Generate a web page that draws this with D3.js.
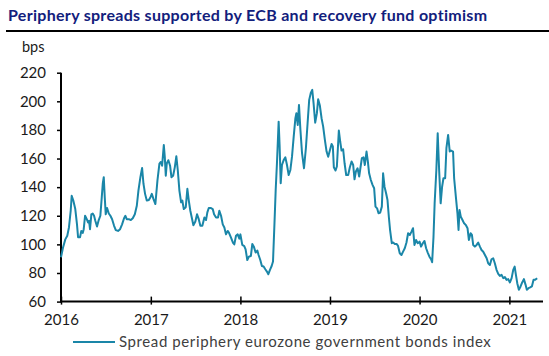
<!DOCTYPE html>
<html>
<head>
<meta charset="utf-8">
<script src="https://cdn.jsdelivr.net/npm/d3@7"></script>
<style>
  html, body { margin: 0; padding: 0; background: #fff; }
  svg { display: block; }
  text { font-family: Lato, "Noto Sans", sans-serif; }
</style>
</head>
<body>
<svg id="chart" width="549" height="356"></svg>
<script>
// ---- data ----
const title = "Periphery spreads supported by ECB and recovery fund optimism";
const unitLabel = "bps";
const seriesName = "Spread periphery eurozone government bonds index";
const yTicks = [60, 80, 100, 120, 140, 160, 180, 200, 220];
const xTickYears = [2016, 2017, 2018, 2019, 2020, 2021];

// observation times as decimal years
const times = [
  2016.000, 2016.022, 2016.048, 2016.070, 2016.089, 2016.108, 2016.119, 2016.137, 2016.159, 2016.178,
  2016.190, 2016.212, 2016.226, 2016.242, 2016.253, 2016.268, 2016.287, 2016.301, 2016.312, 2016.323,
  2016.338, 2016.353, 2016.368, 2016.382, 2016.401, 2016.420, 2016.438, 2016.454, 2016.465, 2016.476,
  2016.487, 2016.498, 2016.513, 2016.532, 2016.550, 2016.569, 2016.591, 2016.610, 2016.635, 2016.658,
  2016.680, 2016.702, 2016.717, 2016.732, 2016.755, 2016.777, 2016.799, 2016.822, 2016.844, 2016.862,
  2016.884, 2016.903, 2016.918, 2016.936, 2016.955, 2016.978, 2016.996,
  2017.011, 2017.029, 2017.051, 2017.074, 2017.096, 2017.111, 2017.126, 2017.145, 2017.156, 2017.167,
  2017.178, 2017.196, 2017.215, 2017.230, 2017.249, 2017.268, 2017.285, 2017.301, 2017.319, 2017.338,
  2017.352, 2017.368, 2017.390, 2017.408, 2017.424, 2017.441, 2017.457, 2017.475, 2017.497, 2017.516,
  2017.535, 2017.553, 2017.575, 2017.598, 2017.616, 2017.631, 2017.647, 2017.672, 2017.691, 2017.706,
  2017.728, 2017.750, 2017.765, 2017.784, 2017.803, 2017.821, 2017.839, 2017.858, 2017.873, 2017.895,
  2017.918, 2017.932, 2017.951, 2017.970, 2017.988,
  2018.000, 2018.021, 2018.043, 2018.058, 2018.077, 2018.095, 2018.117, 2018.133, 2018.150, 2018.170,
  2018.189, 2018.203, 2018.222, 2018.240, 2018.259, 2018.278, 2018.296, 2018.312, 2018.330, 2018.349,
  2018.364, 2018.379, 2018.394, 2018.408, 2018.427, 2018.438, 2018.450, 2018.464, 2018.483, 2018.502,
  2018.520, 2018.539, 2018.558, 2018.576, 2018.595, 2018.614, 2018.625, 2018.640, 2018.654, 2018.670,
  2018.688, 2018.710, 2018.731, 2018.750, 2018.768, 2018.787, 2018.802, 2018.817, 2018.835, 2018.854,
  2018.868, 2018.887, 2018.906, 2018.924, 2018.943, 2018.962, 2018.980,
  2019.000, 2019.018, 2019.032, 2019.043, 2019.062, 2019.077, 2019.099, 2019.114, 2019.129, 2019.147,
  2019.163, 2019.181, 2019.203, 2019.222, 2019.241, 2019.259, 2019.274, 2019.289, 2019.308, 2019.326,
  2019.341, 2019.356, 2019.375, 2019.389, 2019.408, 2019.423, 2019.437, 2019.456, 2019.475, 2019.493,
  2019.508, 2019.526, 2019.542, 2019.560, 2019.579, 2019.593, 2019.609, 2019.627, 2019.642, 2019.657,
  2019.671, 2019.690, 2019.705, 2019.724, 2019.743, 2019.760, 2019.779, 2019.798, 2019.816, 2019.835,
  2019.854, 2019.872, 2019.891, 2019.910, 2019.927, 2019.943, 2019.961, 2019.980,
  2020.000, 2020.017, 2020.036, 2020.055, 2020.073, 2020.091, 2020.110, 2020.128, 2020.140, 2020.155,
  2020.168, 2020.187, 2020.202, 2020.218, 2020.235, 2020.251, 2020.266, 2020.285, 2020.299, 2020.318,
  2020.336, 2020.351, 2020.373, 2020.385, 2020.404, 2020.422, 2020.434, 2020.445, 2020.459, 2020.478,
  2020.496, 2020.515, 2020.534, 2020.549, 2020.568, 2020.583, 2020.597, 2020.616, 2020.635, 2020.653,
  2020.672, 2020.690, 2020.709, 2020.728, 2020.747, 2020.764, 2020.783, 2020.801, 2020.820, 2020.838,
  2020.857, 2020.876, 2020.894, 2020.913, 2020.932, 2020.950, 2020.969, 2020.987,
  2021.006, 2021.025, 2021.043, 2021.059, 2021.073, 2021.088, 2021.106, 2021.125, 2021.143, 2021.162,
  2021.181, 2021.195, 2021.214, 2021.232, 2021.251, 2021.270, 2021.288, 2021.310
];

// spread, bps
const spread = [
  91, 97.6, 103.5, 106, 112, 123.5, 134, 130.6, 124.7, 114,
  105, 105, 109.4, 108, 110.6, 120, 117.6, 115.3, 116.5, 110.6,
  121, 121.6, 120, 116.5, 112.5, 117, 120, 133, 142.4, 147,
  133, 121, 125.4, 121.6, 120, 117.6, 113, 110, 109.4, 110.6,
  114, 118.3, 120, 117.6, 117.6, 117, 118.3, 121, 127, 137.6,
  147, 153.4, 142.4, 135.3, 130.6, 131, 133,
  135.3, 131.8, 128.2, 144.7, 156.5, 157.6, 155, 169.4, 161, 148,
  156.5, 158.8, 155, 147, 148, 154, 161.6, 151.8, 137.6, 129.4,
  130.6, 124.7, 126, 138.8, 130.6, 123.5, 118.8, 113.4, 116, 121,
  117.6, 113, 113, 118.8, 117, 122.4, 125.4, 125.4, 124.7, 121,
  118.8, 118.8, 123.5, 120, 114, 111.8, 107, 109.4, 108, 104.7,
  101, 100, 106, 107, 104,
  107, 99.6, 98.8, 96.5, 89.1, 91.4, 91.9, 100.3, 98.4, 94.3,
  95.7, 92.6, 89.1, 84.9, 84.5, 82.6, 81, 79.1, 82.2, 84.9,
  88, 112.4, 138, 156.6, 185.8, 168.4, 142.7, 155.5, 158.9, 160.8,
  155.5, 148.5, 152, 161.3, 175.3, 188.2, 191.7, 183.5, 197.5, 180,
  163.7, 153.2, 167.2, 184.7, 201, 206.1, 208, 198.6, 185.1, 191.7,
  201.4, 197, 188.2, 182.3, 173, 164.9, 161.3,
  166, 170.2, 168.4, 153.9, 151.6, 154.4, 179.6, 171.9, 165.6, 166.5,
  156.7, 148.5, 148.5, 153.9, 157.9, 155.5, 145.5, 150.9, 153.2, 147.4,
  153.9, 160.2, 160.8, 155.5, 164.9, 157.9, 149.7, 145, 141.6, 139.2,
  126.4, 125.2, 121.7, 122.2, 126.4, 149.7, 140.3, 135.6, 131, 119.3,
  110, 100.8, 101.3, 100.3, 100.3, 98.9, 93.8, 92.6, 94.9, 97.3,
  101.3, 107.8, 106.6, 108.9, 111.3, 99.6, 103.1, 100.8,
  101.9, 98.4, 100.8, 102.4, 97.3, 94.3, 91.4, 89.6, 87.5, 105,
  128.7, 152, 177.7, 152, 128.7, 140.3, 146.2, 146.2, 167.2, 176.5,
  164.9, 165.6, 164.9, 146.2, 133.4, 121.7, 110.1, 124, 119.4, 117,
  114.7, 113.6, 111.3, 103.1, 107.8, 106.6, 99.6, 98.4, 99.6, 101.2,
  98.4, 96.1, 94.9, 92.6, 90.3, 86.8, 85.6, 89.6, 90.3, 86.8,
  82.2, 79.4, 78, 78.7, 76.4, 77.1, 75.2, 75.7,
  73.4, 76.4, 82.2, 84.5, 78.7, 72.9, 68.3, 70.6, 73.4, 75.7,
  71.7, 68.3, 69.4, 69.9, 70.6, 75.2, 75.2, 76.4
];

// ---- helpers ----
function yearToDate(t) {
  const yr = Math.floor(t);
  const start = new Date(yr, 0, 1), end = new Date(yr + 1, 0, 1);
  return new Date(+start + (t - yr) * (end - start));
}
const data = times.map((t, i) => ({ date: yearToDate(t), value: spread[i] }));

// ---- drawing ----
const svg = d3.select("#chart");
const lineColor = "#1a86a8";
const titleColor = "#12207c";

svg.append("text")
  .attr("x", 8).attr("y", 21)
  .attr("font-size", 16).attr("font-weight", 700)
  .attr("letter-spacing", 0.3)
  .attr("fill", titleColor)
  .text(title);

svg.append("line")
  .attr("x1", 6).attr("x2", 549).attr("y1", 31).attr("y2", 31)
  .attr("stroke", "#000").attr("stroke-width", 2);

const x = d3.scaleTime()
  .domain([new Date(2016, 0, 1), new Date(2021, 4, 18)])
  .range([61, 543]);
const y = d3.scaleLinear().domain([60, 220]).range([301.6, 72.7]);

// y axis
const yAxis = svg.append("g")
  .attr("transform", "translate(61,0)")
  .call(d3.axisLeft(y).tickValues(yTicks).tickSize(4).tickPadding(11));
yAxis.select(".domain").attr("stroke", "#000").attr("stroke-width", 2)
  .attr("d", `M0,${y(60)}V${y(220)}`);
yAxis.selectAll(".tick line").attr("stroke", "#000").attr("stroke-width", 1.5);
yAxis.selectAll(".tick text").attr("font-size", 15).attr("fill", "#1a1a1a")
  .attr("font-family", "Lato, 'Noto Sans', sans-serif");

// x axis
const xAxis = svg.append("g")
  .attr("transform", `translate(0,${y(60)})`)
  .call(d3.axisBottom(x)
    .tickValues(xTickYears.map(yy => new Date(yy, 0, 1)))
    .tickFormat(d3.timeFormat("%Y"))
    .tickSize(3).tickPadding(10));
xAxis.select(".domain").attr("stroke", "#000").attr("stroke-width", 2)
  .attr("d", `M${x.range()[0] - 1},0H${x.range()[1]}`);
xAxis.selectAll(".tick line").attr("stroke", "#000").attr("stroke-width", 1.5)
  .attr("y1", -5).attr("y2", 3);
xAxis.selectAll(".tick text").attr("font-size", 15).attr("fill", "#1a1a1a")
  .attr("font-family", "Lato, 'Noto Sans', sans-serif");

svg.append("text")
  .attr("x", 22).attr("y", 52)
  .attr("font-size", 14.5).attr("fill", "#1a1a1a")
  .text(unitLabel);

// series line
svg.append("path")
  .datum(data)
  .attr("fill", "none")
  .attr("stroke", lineColor)
  .attr("stroke-width", 2)
  .attr("stroke-linejoin", "round")
  .attr("d", d3.line().x(d => x(d.date)).y(d => y(d.value)));

// legend
svg.append("line")
  .attr("x1", 73).attr("x2", 115).attr("y1", 342).attr("y2", 342)
  .attr("stroke", lineColor).attr("stroke-width", 2);
svg.append("text")
  .attr("x", 119).attr("y", 347)
  .attr("font-size", 15).attr("letter-spacing", 0.6)
  .attr("fill", "#404040")
  .text(seriesName);
</script>
</body>
</html>
